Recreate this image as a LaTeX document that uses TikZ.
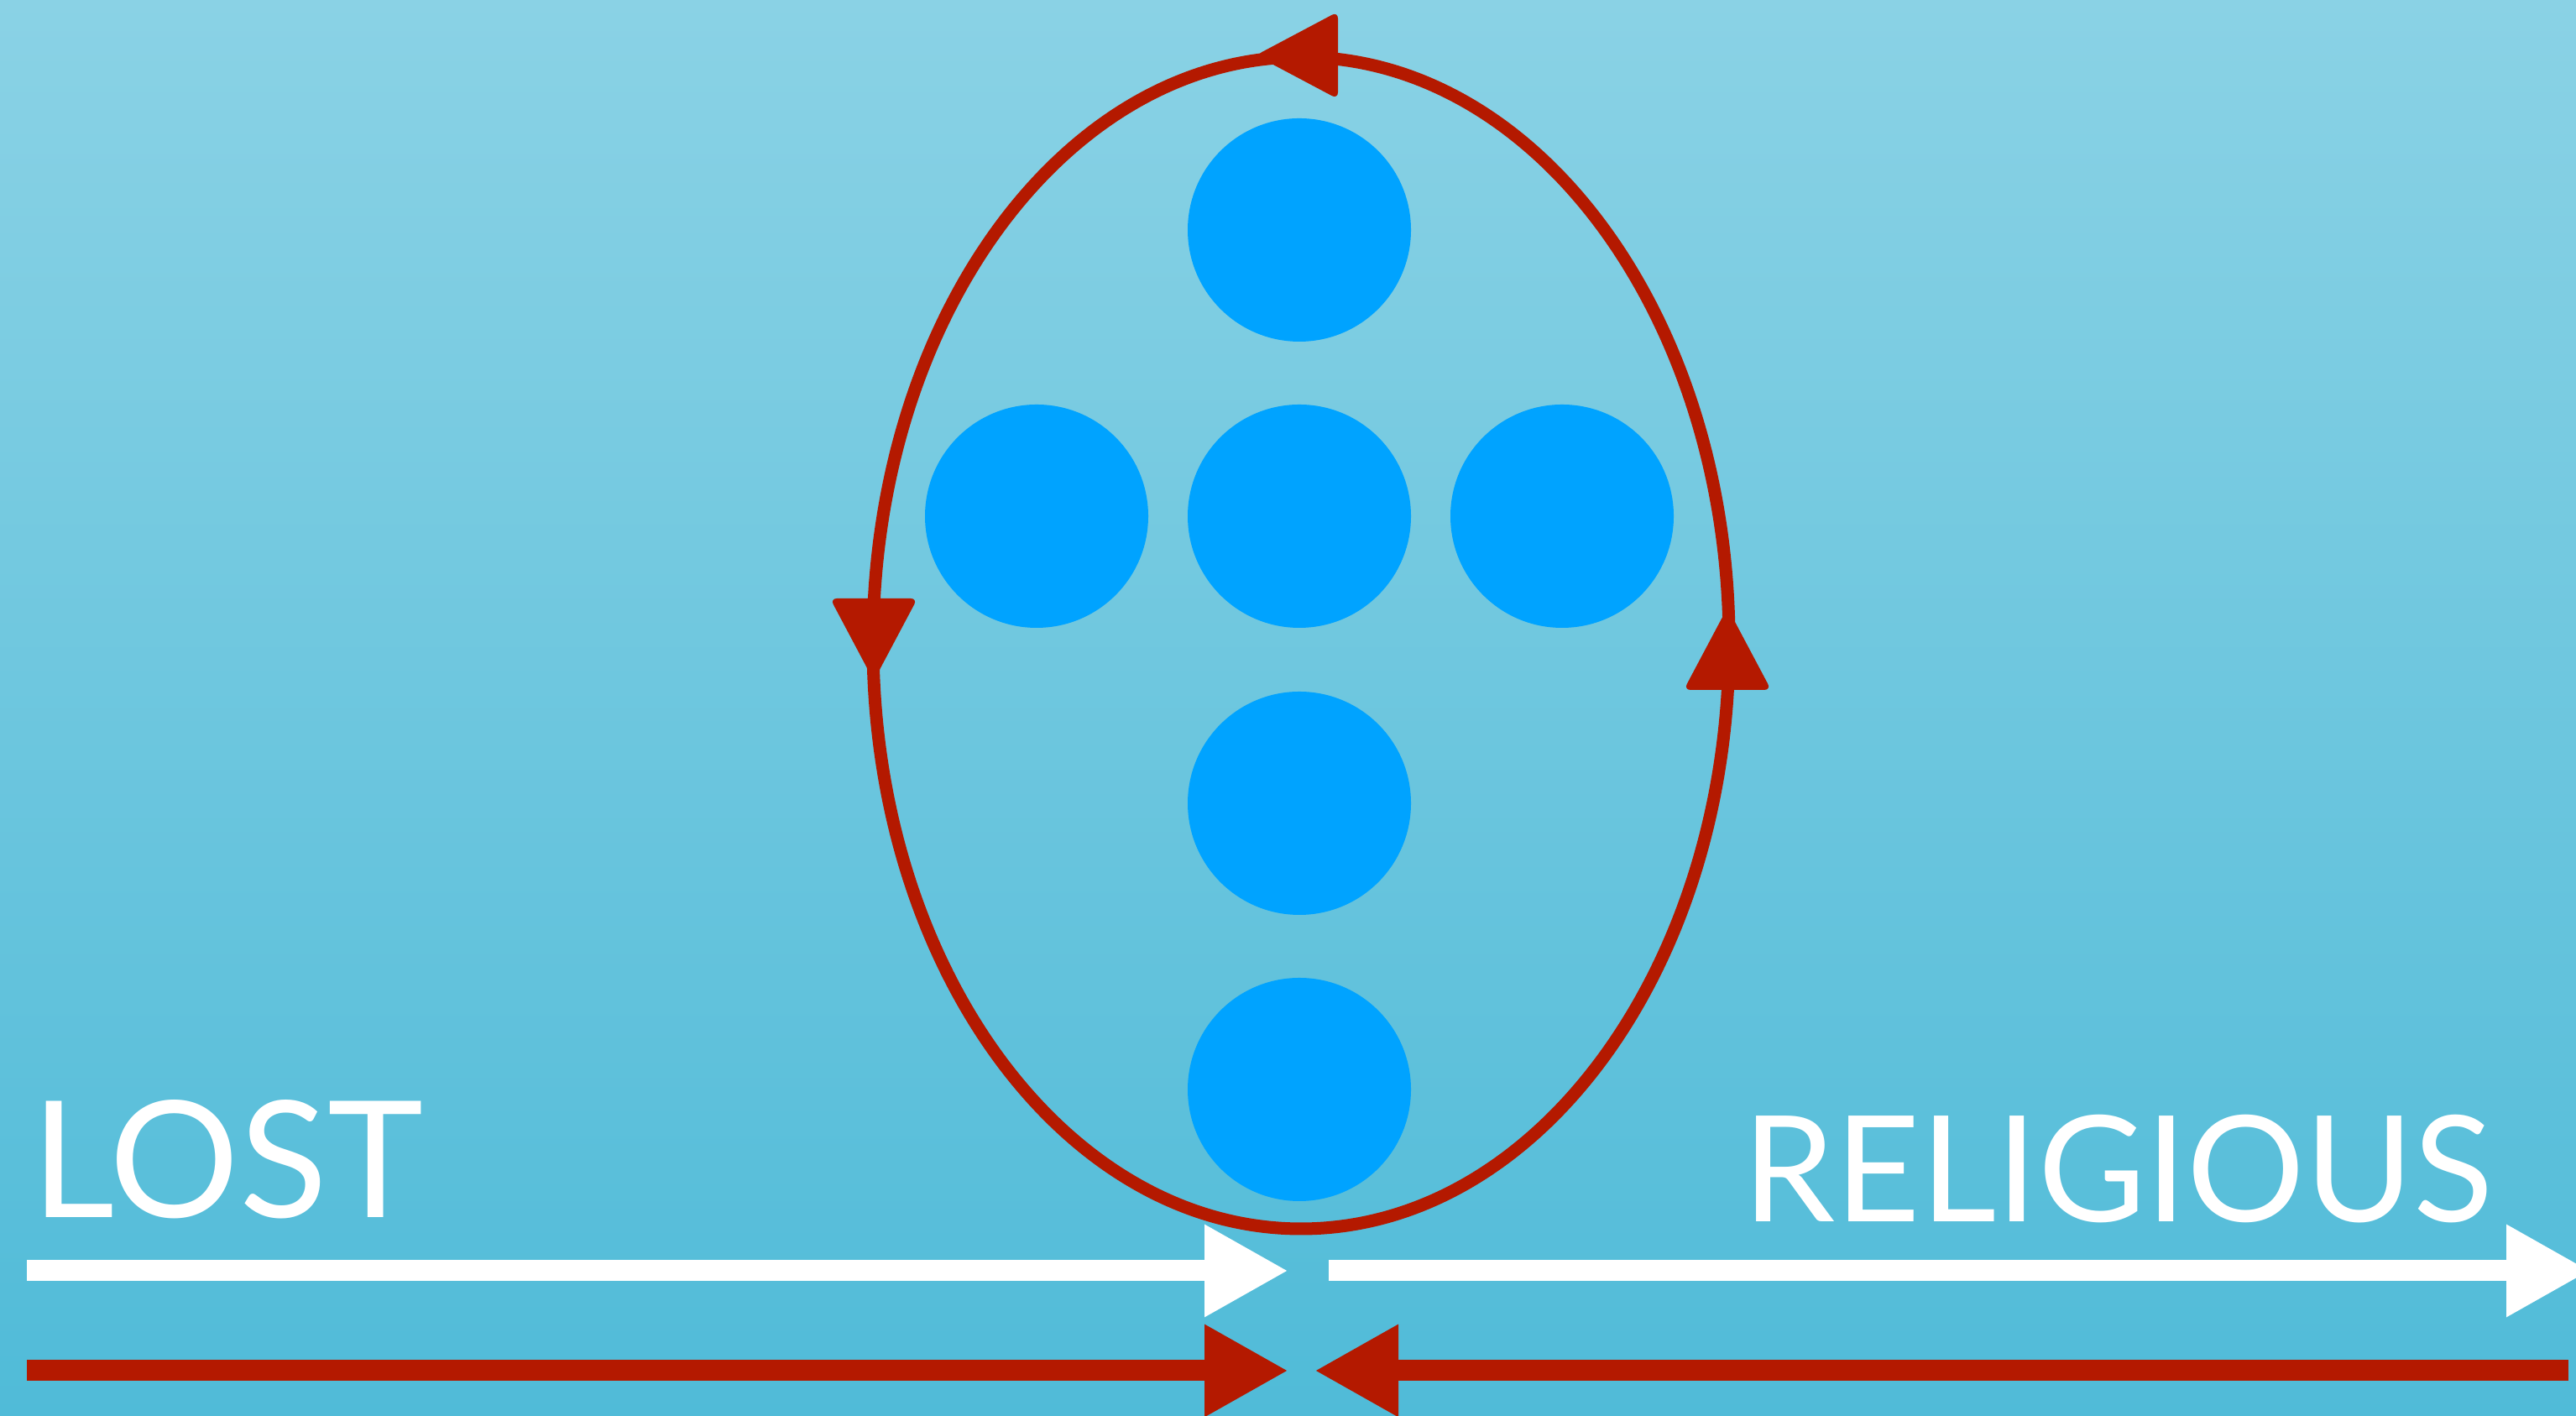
\documentclass[tikz,border=0pt]{standalone}
\usepackage{fontspec}
\setmainfont{Lato}
\usetikzlibrary{
    arrows.meta,
    positioning
}
\definecolor{skytop}{RGB}{138,210,229}
\definecolor{skybottom}{RGB}{80,187,216}
\definecolor{brushred}{RGB}{180,25,0}
\definecolor{dotblue}{RGB}{0,163,255}
\tikzset{
    dot/.style={
        circle,
        fill=dotblue,
        minimum size=2.66cm,
        inner sep=0pt
    },
    ringhead/.style={
        fill=brushred,
        rounded corners=0.8mm
    },
    loopring/.style={
        draw=brushred,
        line width=1.5mm
    },
    brush/.style={
        line width=2.5mm,
        -{Triangle[length=10mm, width=10.3mm]}
    },
    tag/.style={
        font=\fontsize{55}{60}\selectfont,
        text=white,
        inner sep=0pt
    }
}

\begin{document}
\begin{tikzpicture}

\useasboundingbox (0,0) rectangle (30.69,16.87);
\shade[top color=skytop, bottom color=skybottom] (0,0) rectangle (30.69,16.87);

% the cross of dots
\foreach \name/\x/\y in {top/15.48/14.13, left/12.35/10.72, mid/15.48/10.72,
                          right/18.61/10.72, low/15.48/7.30, base/15.48/3.89} {
    \node[dot] (\name) at (\x,\y) {};
}

\coordinate (ring) at (15.5,9.21);
\draw[loopring] (ring) ellipse (5.1 and 6.98);

% heads on the ring, turning anticlockwise
\foreach \x/\y/\ang in {15.46/16.21/180, 10.41/9.26/-90, 20.58/9.13/90} {
    \fill[ringhead, shift={(\x,\y)}, rotate=\ang] (0.5,0) -- (-0.48,0.52) -- (-0.48,-0.52) -- cycle;
}

\node[tag, anchor=base west] (lost) at (0.37,2.36) {LOST};
\node[tag, anchor=base west, font=\fontsize{50}{56}\selectfont] (religious) at (20.76,2.31) {RELIGIOUS};

\coordinate (white1a) at (0.32,1.73);
\coordinate (white1b) at (15.35,1.73);
\coordinate (white2a) at (15.83,1.73);
\coordinate (white2b) at (30.86,1.73);
\coordinate (red1a) at (0.32,0.54);
\coordinate (red1b) at (15.35,0.54);
\coordinate (red2a) at (30.60,0.54);
\coordinate (red2b) at (15.66,0.54);

\draw[brush, white] (white1a) -- (white1b);
\draw[brush, white] (white2a) -- (white2b);
\draw[brush, brushred] (red1a) -- (red1b);
\draw[brush, brushred] (red2a) -- (red2b);

\end{tikzpicture}
\end{document}
